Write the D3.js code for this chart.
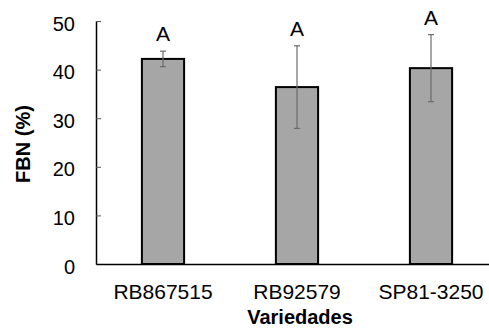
<!DOCTYPE html>
<html>
  <head>
    <meta charset="utf-8">
    <title>FBN por variedade</title>
    <style>
      body { margin: 0; background: #fff; }
      text { font-family: 'Liberation Sans', Arial, sans-serif; fill: #000; }
      .tick text { font-size: 20px; }
      .x-ticks .tick text { font-size: 21px; }
      .axis-label { font-size: 20px; font-weight: bold; }
      .letter { font-size: 21px; }
    </style>
  </head>
  <body>
    <div id="chart"></div>
    <script src="https://cdn.jsdelivr.net/npm/d3@7"></script>
    <script>
      // data
      var variedades = ['RB867515', 'RB92579', 'SP81-3250'];
      var fbn = [42.2, 36.4, 40.3];
      var erro = [1.6, 8.5, 6.9];
      var letras = ['A', 'A', 'A'];
      var yTicks = [0, 10, 20, 30, 40, 50];

      var width = 489, height = 330;
      var margin = {top: 21, right: -9, bottom: 66, left: 96};

      var svg = d3.select('#chart').append('svg')
        .attr('width', width)
        .attr('height', height);

      var x = d3.scaleBand()
        .domain(variedades)
        .range([margin.left, width - margin.right])
        .paddingInner(0.685)
        .paddingOuter(0.685 / 2);

      var y = d3.scaleLinear()
        .domain([0, 50])
        .range([height - margin.bottom, margin.top]);

      var rows = variedades.map(function(v, i) {
        return {name: v, value: fbn[i], err: erro[i], letter: letras[i]};
      });

      // bars
      svg.selectAll('rect.bar')
        .data(rows)
        .enter().append('rect')
        .attr('class', 'bar')
        .attr('x', function(d) { return x(d.name); })
        .attr('y', function(d) { return y(d.value); })
        .attr('width', x.bandwidth())
        .attr('height', function(d) { return y(0) - y(d.value); })
        .attr('fill', '#a6a6a6')
        .attr('stroke', '#000')
        .attr('stroke-width', 2);

      // error bars
      var eb = svg.selectAll('g.err')
        .data(rows)
        .enter().append('g')
        .attr('class', 'err')
        .attr('stroke', '#6b6b6b')
        .attr('stroke-width', 1.2);

      eb.append('line')
        .attr('x1', function(d) { return x(d.name) + x.bandwidth() / 2; })
        .attr('x2', function(d) { return x(d.name) + x.bandwidth() / 2; })
        .attr('y1', function(d) { return y(d.value + d.err); })
        .attr('y2', function(d) { return y(d.value - d.err); });

      [1, -1].forEach(function(s) {
        eb.append('line')
          .attr('x1', function(d) { return x(d.name) + x.bandwidth() / 2 - 3; })
          .attr('x2', function(d) { return x(d.name) + x.bandwidth() / 2 + 3; })
          .attr('y1', function(d) { return y(d.value + s * d.err); })
          .attr('y2', function(d) { return y(d.value + s * d.err); });
      });

      // letters above error bars
      svg.selectAll('text.letter')
        .data(rows)
        .enter().append('text')
        .attr('class', 'letter')
        .attr('text-anchor', 'middle')
        .attr('x', function(d) { return x(d.name) + x.bandwidth() / 2; })
        .attr('y', function(d) { return y(d.value + d.err) - 10; })
        .text(function(d) { return d.letter; });

      // y axis, ticks pointing inside
      var yAxis = svg.append('g')
        .attr('transform', 'translate(' + margin.left + ',0)')
        .call(d3.axisRight(y).tickValues(yTicks).tickSize(5).tickSizeOuter(0));
      yAxis.select('.domain').attr('stroke', '#000').attr('stroke-width', 1.5);
      yAxis.selectAll('.tick line').attr('stroke', '#555');
      yAxis.selectAll('.tick text')
        .attr('text-anchor', 'end')
        .attr('x', -21)
        .attr('dy', '0.45em');

      // x axis
      var xAxis = svg.append('g')
        .attr('class', 'x-ticks')
        .attr('transform', 'translate(0,' + y(0) + ')')
        .call(d3.axisBottom(x).tickSize(0).tickSizeOuter(0));
      xAxis.select('.domain').attr('stroke', '#000').attr('stroke-width', 1.5);
      xAxis.selectAll('.tick text').attr('y', 20).attr('dy', '0.71em');

      svg.append('text')
        .attr('class', 'axis-label')
        .attr('text-anchor', 'middle')
        .attr('x', 300)
        .attr('y', 324)
        .text('Variedades');

      svg.append('text')
        .attr('class', 'axis-label')
        .attr('text-anchor', 'middle')
        .attr('transform', 'translate(30,144) rotate(-90)')
        .text('FBN (%)');
    </script>
  </body>
</html>
